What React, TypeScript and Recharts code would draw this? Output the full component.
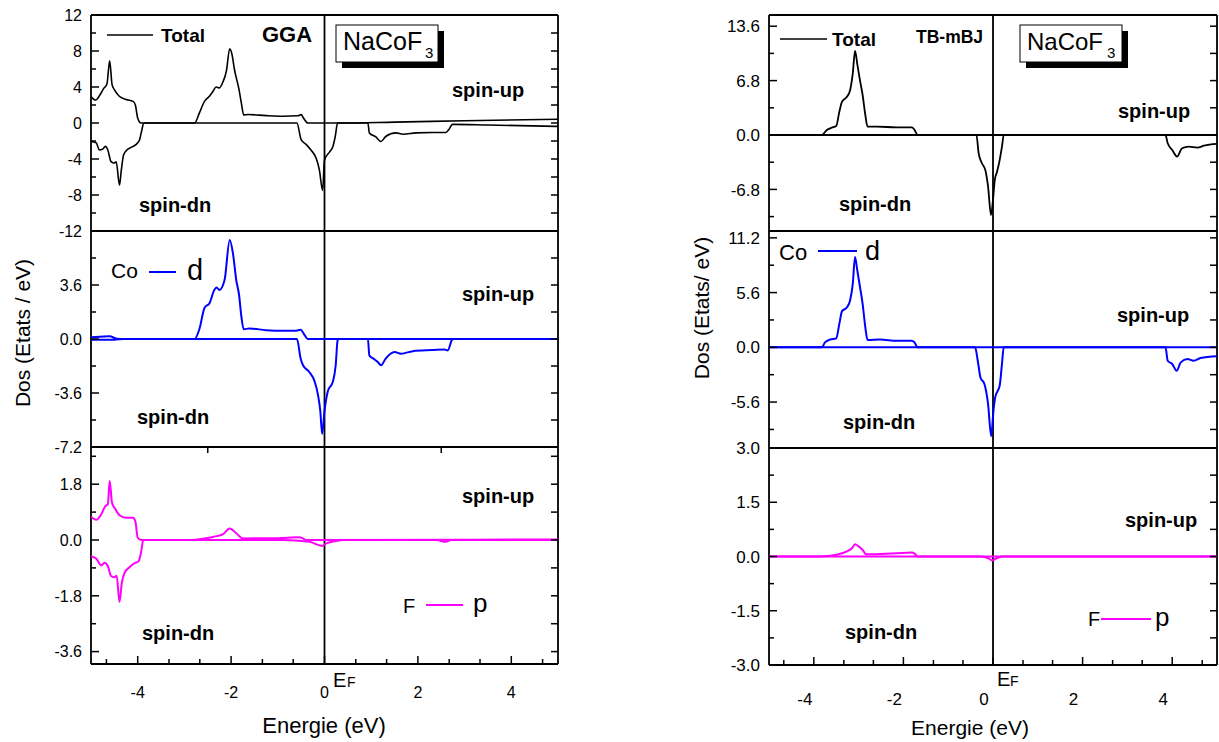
import { LineChart, Line, XAxis, YAxis, ReferenceLine } from "recharts";

type Pt = [number, number];

// ---- GGA (left column) : energy (eV), DOS ----
const ggaTotalUp: Pt[] = [
  [-5.0, 2.95], [-4.9, 2.55], [-4.8, 3.2], [-4.72, 3.9], [-4.66, 4.3], [-4.6, 6.9],
  [-4.55, 4.3], [-4.5, 3.7], [-4.4, 3.0], [-4.25, 2.6], [-4.1, 2.4], [-4.05, 2.0],
  [-4.0, 0.55], [-3.93, 0], [-2.78, 0], [-2.68, 1.1], [-2.57, 2.4], [-2.46, 3.0],
  [-2.39, 3.5], [-2.32, 4.0], [-2.25, 3.9], [-2.18, 4.5], [-2.1, 5.8], [-2.03, 8.25],
  [-1.98, 7.6], [-1.93, 6.0], [-1.83, 3.7], [-1.78, 2.2], [-1.73, 0.9], [-1.64, 0.95],
  [-1.25, 0.82], [-0.89, 0.75], [-0.57, 0.8], [-0.5, 0.93], [-0.45, 0.55], [-0.36, 0],
  [0.3, 0], [1.5, 0.1], [3.0, 0.25], [5.0, 0.42],
];
const ggaTotalDn: Pt[] = [
  [-5.0, -2.05], [-4.89, -2.2], [-4.82, -3.0], [-4.75, -2.9], [-4.69, -2.6], [-4.64, -3.0],
  [-4.57, -4.3], [-4.5, -4.45], [-4.46, -4.3], [-4.39, -6.9], [-4.35, -5.2], [-4.3, -3.5],
  [-4.21, -2.9], [-4.1, -2.6], [-4.0, -2.2], [-3.96, -1.85], [-3.91, -0.75], [-3.87, 0],
  [-0.59, 0], [-0.5, -1.85], [-0.39, -2.4], [-0.29, -3.0], [-0.18, -3.9], [-0.11, -5.2],
  [-0.04, -7.5], [0.0, -4.1], [0.11, -3.2], [0.18, -2.6], [0.23, -1.5], [0.28, 0],
  [0.93, 0], [0.96, -1.1], [1.1, -1.55], [1.21, -2.05], [1.31, -1.5], [1.53, -1.1],
  [1.68, -1.25], [1.96, -1.1], [2.31, -1.05], [2.6, -1.05], [2.66, -0.75], [2.74, -0.15],
  [3.5, -0.22], [5.0, -0.38],
];
const ggaCoDUp: Pt[] = [
  [-5.0, 0.12], [-4.8, 0.15], [-4.6, 0.18], [-4.45, 0.02], [-4.3, 0], [-2.78, 0],
  [-2.68, 0.65], [-2.57, 2.07], [-2.46, 2.4], [-2.36, 3.27], [-2.31, 3.43], [-2.25, 3.27],
  [-2.14, 3.93], [-2.03, 6.6], [-1.96, 5.7], [-1.89, 3.93], [-1.83, 2.95], [-1.78, 1.5],
  [-1.73, 0.65], [-1.61, 0.7], [-1.25, 0.59], [-0.89, 0.55], [-0.61, 0.55], [-0.51, 0.61],
  [-0.44, 0.33], [-0.36, 0], [5.0, 0],
];
const ggaCoDDn: Pt[] = [
  [-5.0, -0.05], [-4.5, -0.05], [-4.3, 0], [-0.59, 0], [-0.51, -1.31], [-0.46, -1.75],
  [-0.33, -2.18], [-0.21, -2.84], [-0.14, -3.71], [-0.09, -4.8], [-0.05, -6.33], [0.0, -4.8],
  [0.07, -3.5], [0.18, -2.84], [0.24, -1.75], [0.28, -0.1], [0.3, 0], [0.93, 0],
  [0.96, -1.09], [1.05, -1.31], [1.14, -1.53], [1.21, -1.75], [1.31, -1.31], [1.5, -0.87],
  [1.64, -0.98], [1.89, -0.81], [2.31, -0.74], [2.57, -0.7], [2.64, -0.76], [2.73, -0.05],
  [2.76, 0], [5.0, 0],
];
const ggaFPUp: Pt[] = [
  [-5.0, 0.75], [-4.89, 0.65], [-4.78, 0.83], [-4.69, 1.1], [-4.64, 1.15], [-4.6, 1.9],
  [-4.55, 1.2], [-4.48, 1.0], [-4.39, 0.8], [-4.25, 0.72], [-4.1, 0.72], [-4.05, 0.6],
  [-4.0, 0.08], [-3.93, 0], [-2.9, 0], [-2.6, 0.04], [-2.39, 0.1], [-2.18, 0.18],
  [-2.03, 0.37], [-1.89, 0.22], [-1.75, 0.05], [-1.0, 0.06], [-0.54, 0.09], [-0.45, 0.04],
  [-0.39, 0], [5.0, 0.02],
];
const ggaFPDn: Pt[] = [
  [-5.0, -0.52], [-4.89, -0.6], [-4.78, -0.82], [-4.71, -0.73], [-4.64, -0.84], [-4.57, -1.16],
  [-4.5, -1.2], [-4.45, -1.15], [-4.39, -2.0], [-4.34, -1.38], [-4.28, -1.06], [-4.17, -0.87],
  [-4.07, -0.75], [-3.98, -0.68], [-3.93, -0.41], [-3.88, 0], [-0.9, 0], [-0.32, -0.06],
  [-0.05, -0.19], [0.04, -0.11], [0.25, -0.03], [0.4, 0], [2.4, 0], [2.6, -0.06],
  [2.7, 0], [5.0, 0],
];

// ---- TB-mBJ (right column) ----
const tbTotalUp: Pt[] = [
  [-5.0, 0], [-3.82, 0], [-3.71, 0.62], [-3.6, 0.92], [-3.5, 1.12], [-3.43, 2.9],
  [-3.37, 4.16], [-3.26, 4.78], [-3.19, 5.6], [-3.13, 7.7], [-3.08, 10.5], [-3.03, 8.9],
  [-2.97, 6.86], [-2.91, 5.0], [-2.85, 2.5], [-2.8, 1.04], [-2.59, 1.04], [-2.15, 0.96],
  [-1.81, 0.96], [-1.76, 0.7], [-1.68, 0], [5.0, 0],
];
const tbTotalDn: Pt[] = [
  [-5.0, 0], [-0.37, 0], [-0.32, -2.3], [-0.25, -3.5], [-0.17, -4.4], [-0.11, -6.45],
  [-0.045, -10.0], [0.0, -8.1], [0.04, -5.6], [0.09, -4.6], [0.15, -3.1], [0.2, -1.46],
  [0.24, 0], [3.85, 0], [3.9, -1.04], [4.0, -1.87], [4.11, -2.7], [4.22, -1.66],
  [4.37, -1.46], [4.56, -1.58], [4.71, -1.33], [5.0, -1.12],
];
const tbCoDUp: Pt[] = [
  [-5.0, 0], [-3.82, 0], [-3.75, 0.51], [-3.64, 0.79], [-3.5, 0.92], [-3.43, 2.4],
  [-3.37, 3.7], [-3.26, 4.1], [-3.19, 4.8], [-3.13, 6.5], [-3.08, 9.25], [-3.03, 7.9],
  [-2.97, 6.2], [-2.91, 4.45], [-2.85, 2.05], [-2.8, 0.75], [-2.52, 0.79], [-2.15, 0.68],
  [-1.81, 0.68], [-1.76, 0.55], [-1.68, 0], [5.0, 0],
];
const tbCoDDn: Pt[] = [
  [-5.0, 0], [-0.4, 0], [-0.34, -1.37], [-0.28, -3.08], [-0.19, -3.77], [-0.11, -5.8],
  [-0.04, -9.1], [0.01, -6.5], [0.05, -5.1], [0.15, -3.9], [0.2, -1.7], [0.24, 0],
  [3.85, 0], [3.9, -1.37], [4.0, -1.71], [4.1, -2.4], [4.19, -1.54], [4.34, -1.2],
  [4.48, -1.37], [4.63, -1.1], [5.0, -0.92],
];
const tbFPUp: Pt[] = [
  [-5.0, 0], [-3.86, 0], [-3.49, 0.05], [-3.26, 0.14], [-3.15, 0.23], [-3.08, 0.34],
  [-3.0, 0.28], [-2.91, 0.18], [-2.83, 0.06], [-2.5, 0.07], [-2.15, 0.09], [-1.81, 0.11],
  [-1.75, 0.08], [-1.68, 0], [5.0, 0],
];
const tbFPDn: Pt[] = [
  [-5.0, 0], [-0.28, 0], [-0.1, -0.05], [-0.02, -0.11], [0.05, -0.07], [0.2, 0], [5.0, 0],
];

// ---- ticks ----
const xMajor = [-4, -2, 0, 2, 4];
const xMinor = [-4.67, -3.33, -2.67, -1.33, -0.67, 0.67, 1.33, 2.67, 3.33, 4.67];
const xEdge = [-2.5, 2.5];

const FONT = "'Liberation Sans', Arial, Helvetica, sans-serif";
const BLUE = "#0000ff";
const MAGENTA = "#ff00ff";

type Series = { data: Pt[]; color: string; width: number };
type PanelCfg = {
  left: number;
  top: number;
  plotW: number;
  plotH: number;
  yDomain: [number, number];
  yMajor: number[];
  yMinor: number[];
  digits: number;
  fontSize: number;
  series: Series[];
  xLabels?: boolean;
  labelDx?: number;
  edgeTop?: boolean;
  edgeBottom?: boolean;
};

const toRows = (pts: Pt[]) => pts.map(([x, y]) => ({ x, y }));

const Panel = ({ cfg }: { cfg: PanelCfg }) => {
  const YW = 80;
  const MT = 10;
  const MR = 4;
  const XH = cfg.xLabels ? 60 : 0;
  const MB = cfg.xLabels ? 0 : 14;
  const plotL = YW;
  const plotR = YW + cfg.plotW;
  const plotT = MT;
  const plotB = MT + cfg.plotH;
  const majorY = new Set(cfg.yMajor);
  const majorX = new Set(xMajor);
  const xTicks = cfg.xLabels ? [...xMajor, ...xMinor, ...xEdge] : xEdge;

  const yTick = (t: any) => {
    const v = t.payload.value;
    const y = t.y;
    const major = majorY.has(v);
    return (
      <g>
        <line x1={plotL} x2={plotL + (major ? 8 : 5)} y1={y} y2={y} stroke="#000" strokeWidth={1.5} />
        <line x1={plotR} x2={plotR - 7} y1={y} y2={y} stroke="#000" strokeWidth={1.5} />
        {major && (
          <text x={plotL - 9} y={y} dy="0.36em" textAnchor="end" fontSize={cfg.fontSize} fontFamily={FONT} fill="#000">
            {v.toFixed(cfg.digits)}
          </text>
        )}
      </g>
    );
  };

  const xTick = (t: any) => {
    const v = t.payload.value;
    const x = t.x;
    if (v === -2.5 || v === 2.5) {
      return (
        <g>
          {cfg.edgeTop && <line x1={x} x2={x} y1={plotT} y2={plotT + 6} stroke="#000" strokeWidth={1.5} />}
          {cfg.edgeBottom && <line x1={x} x2={x} y1={plotB} y2={plotB - 6} stroke="#000" strokeWidth={1.5} />}
        </g>
      );
    }
    const major = majorX.has(v);
    return (
      <g>
        <line x1={x} x2={x} y1={plotB} y2={plotB - (major ? 8 : 5)} stroke="#000" strokeWidth={1.5} />
        {major && (
          <text x={x + (cfg.labelDx || 0)} y={plotB + (cfg.labelDx ? 40 : 34)} textAnchor="middle" fontSize={cfg.fontSize} fontFamily={FONT} fill="#000">
            {String(v)}
          </text>
        )}
      </g>
    );
  };

  const [y0, y1] = cfg.yDomain;
  return (
    <div style={{ position: "absolute", left: cfg.left - YW, top: cfg.top - MT }}>
      <LineChart
        width={YW + cfg.plotW + MR}
        height={MT + cfg.plotH + XH + MB}
        margin={{ top: MT, right: MR, left: 0, bottom: MB }}
      >
        <XAxis
          type="number"
          dataKey="x"
          domain={[-5, 5]}
          allowDataOverflow
          ticks={xTicks}
          interval={0}
          height={XH}
          axisLine={false}
          tickLine={false}
          tick={xTick}
        />
        <YAxis
          type="number"
          dataKey="y"
          domain={cfg.yDomain}
          allowDataOverflow
          ticks={[...cfg.yMajor, ...cfg.yMinor]}
          interval={0}
          width={YW}
          axisLine={false}
          tickLine={false}
          tick={yTick}
        />
        <ReferenceLine x={-5} stroke="#000" strokeWidth={1.8} />
        <ReferenceLine x={5} stroke="#000" strokeWidth={1.8} />
        <ReferenceLine y={y0} stroke="#000" strokeWidth={1.8} />
        <ReferenceLine y={y1} stroke="#000" strokeWidth={1.8} />
        <ReferenceLine x={0} stroke="#000" strokeWidth={1.8} />
        {cfg.series.map((s, i) => (
          <Line
            key={i}
            data={toRows(s.data)}
            dataKey="y"
            type="monotone"
            stroke={s.color}
            strokeWidth={s.width}
            dot={false}
            activeDot={false}
            isAnimationActive={false}
          />
        ))}
      </LineChart>
    </div>
  );
};

const panels: PanelCfg[] = [
  {
    left: 91, top: 15, plotW: 467, plotH: 216, yDomain: [-12, 12],
    yMajor: [12, 8, 4, 0, -4, -8, -12], yMinor: [10, 6, 2, -2, -6, -10], digits: 0, fontSize: 16,
    series: [{ data: ggaTotalUp, color: "#000", width: 1.6 }, { data: ggaTotalDn, color: "#000", width: 1.6 }],
    edgeBottom: true,
  },
  {
    left: 91, top: 231, plotW: 467, plotH: 216, yDomain: [-7.2, 7.2],
    yMajor: [3.6, 0, -3.6, -7.2], yMinor: [5.4, 1.8, -1.8, -5.4], digits: 1, fontSize: 16,
    series: [{ data: ggaCoDUp, color: BLUE, width: 2 }, { data: ggaCoDDn, color: BLUE, width: 2 }],
    edgeTop: true, edgeBottom: true,
  },
  {
    left: 91, top: 447, plotW: 467, plotH: 217, yDomain: [-4, 3],
    yMajor: [1.8, 0, -1.8, -3.6], yMinor: [2.7, 0.9, -0.9, -2.7], digits: 1, fontSize: 16,
    series: [{ data: ggaFPUp, color: MAGENTA, width: 2 }, { data: ggaFPDn, color: MAGENTA, width: 2 }],
    xLabels: true, edgeTop: true,
  },
  {
    left: 769, top: 15, plotW: 448, plotH: 216, yDomain: [-12, 15],
    yMajor: [13.6, 6.8, 0, -6.8], yMinor: [10.2, 3.4, -3.4, -10.2], digits: 1, fontSize: 17,
    series: [{ data: tbTotalUp, color: "#000", width: 1.8 }, { data: tbTotalDn, color: "#000", width: 1.8 }],
  },
  {
    left: 769, top: 231, plotW: 448, plotH: 217, yDomain: [-10.3, 11.9],
    yMajor: [11.2, 5.6, 0, -5.6], yMinor: [8.4, 2.8, -2.8, -8.4], digits: 1, fontSize: 17,
    series: [{ data: tbCoDUp, color: BLUE, width: 2 }, { data: tbCoDDn, color: BLUE, width: 2 }],
  },
  {
    left: 769, top: 448, plotW: 448, plotH: 217, yDomain: [-3, 3],
    yMajor: [3, 1.5, 0, -1.5, -3], yMinor: [2.25, 0.75, -0.75, -2.25], digits: 1, fontSize: 17,
    series: [{ data: tbFPUp, color: MAGENTA, width: 2 }, { data: tbFPDn, color: MAGENTA, width: 2 }],
    xLabels: true, labelDx: -9,
  },
];

const Bold = ({ x, y, size, children }: { x: number; y: number; size: number; children: string }) => (
  <text x={x} y={y} fontSize={size} fontWeight="bold" fontFamily={FONT} fill="#000">
    {children}
  </text>
);

const Txt = ({ x, y, size, children }: { x: number; y: number; size: number; children: string }) => (
  <text x={x} y={y} fontSize={size} fontFamily={FONT} fill="#000">
    {children}
  </text>
);

const Formula = ({ x, y, size, subX }: { x: number; y: number; size: number; subX: number }) => (
  <g>
    <rect x={x + 6} y={y + 6} width={102} height={37} fill="#000" />
    <rect x={x} y={y} width={102} height={37} fill="#fff" stroke="#000" strokeWidth={1} />
    <Txt x={x + 7} y={y + 25} size={size}>NaCoF</Txt>
    <Txt x={subX} y={y + 33} size={15}>3</Txt>
  </g>
);

const Overlay = () => (
  <svg width={1219} height={742} style={{ position: "absolute", left: 0, top: 0, pointerEvents: "none" }}>
    {/* left column */}
    <line x1={107} x2={153} y1={35} y2={35} stroke="#000" strokeWidth={1.5} />
    <Bold x={161} y={42} size={19}>Total</Bold>
    <Bold x={262} y={42} size={22}>GGA</Bold>
    <Formula x={336} y={25} size={25} subX={425} />
    <Bold x={452} y={97} size={20}>spin-up</Bold>
    <Bold x={139} y={212} size={20}>spin-dn</Bold>

    <Txt x={111} y={278} size={21}>Co</Txt>
    <line x1={149} x2={176} y1={272} y2={272} stroke={BLUE} strokeWidth={2} />
    <Txt x={187} y={280} size={29}>d</Txt>
    <Bold x={462} y={301} size={20}>spin-up</Bold>
    <Bold x={137} y={424} size={20}>spin-dn</Bold>

    <Bold x={462} y={503} size={20}>spin-up</Bold>
    <Txt x={403} y={613} size={20}>F</Txt>
    <line x1={426} x2={463} y1={605} y2={605} stroke={MAGENTA} strokeWidth={2} />
    <Txt x={473} y={612} size={26}>p</Txt>
    <Bold x={142} y={640} size={20}>spin-dn</Bold>

    <Txt x={333} y={687} size={20}>E</Txt>
    <Txt x={347} y={687} size={14}>F</Txt>
    <text x={324} y={733} textAnchor="middle" fontSize={22} fontFamily={FONT} fill="#000">Energie (eV)</text>
    <text transform="translate(23,333) rotate(-90)" textAnchor="middle" dy="0.35em" fontSize={21} fontFamily={FONT} fill="#000">
      Dos (Etats / eV)
    </text>

    {/* right column */}
    <line x1={780} x2={827} y1={39} y2={39} stroke="#000" strokeWidth={1.5} />
    <Bold x={832} y={46} size={19}>Total</Bold>
    <Bold x={916} y={43} size={17.5}>TB-mBJ</Bold>
    <Formula x={1020} y={25} size={24} subX={1107} />
    <Bold x={1118} y={118} size={20}>spin-up</Bold>
    <Bold x={839} y={211} size={20}>spin-dn</Bold>

    <Txt x={779} y={260} size={22}>Co</Txt>
    <line x1={818} x2={857} y1={251} y2={251} stroke={BLUE} strokeWidth={2} />
    <Txt x={865} y={260} size={27}>d</Txt>
    <Bold x={1117} y={322} size={20}>spin-up</Bold>
    <Bold x={843} y={429} size={20}>spin-dn</Bold>

    <Bold x={1125} y={527} size={20}>spin-up</Bold>
    <Txt x={1088} y={626} size={20}>F</Txt>
    <line x1={1101} x2={1151} y1={619} y2={619} stroke={MAGENTA} strokeWidth={2} />
    <Txt x={1155} y={626} size={26}>p</Txt>
    <Bold x={845} y={639} size={20}>spin-dn</Bold>

    <Txt x={997} y={686} size={20}>E</Txt>
    <Txt x={1010} y={686} size={14}>F</Txt>
    <text x={970} y={735} textAnchor="middle" fontSize={21} fontFamily={FONT} fill="#000">Energie (eV)</text>
    <text transform="translate(702,308) rotate(-90)" textAnchor="middle" dy="0.35em" fontSize={21} fontFamily={FONT} fill="#000">
      Dos (Etats/ eV)
    </text>
  </svg>
);

export default function App() {
  return (
    <div style={{ position: "absolute", left: 0, top: 0, width: 1219, height: 742, background: "#fff", fontFamily: FONT }}>
      {panels.map((p, i) => (
        <Panel key={i} cfg={p} />
      ))}
      <Overlay />
    </div>
  );
}
